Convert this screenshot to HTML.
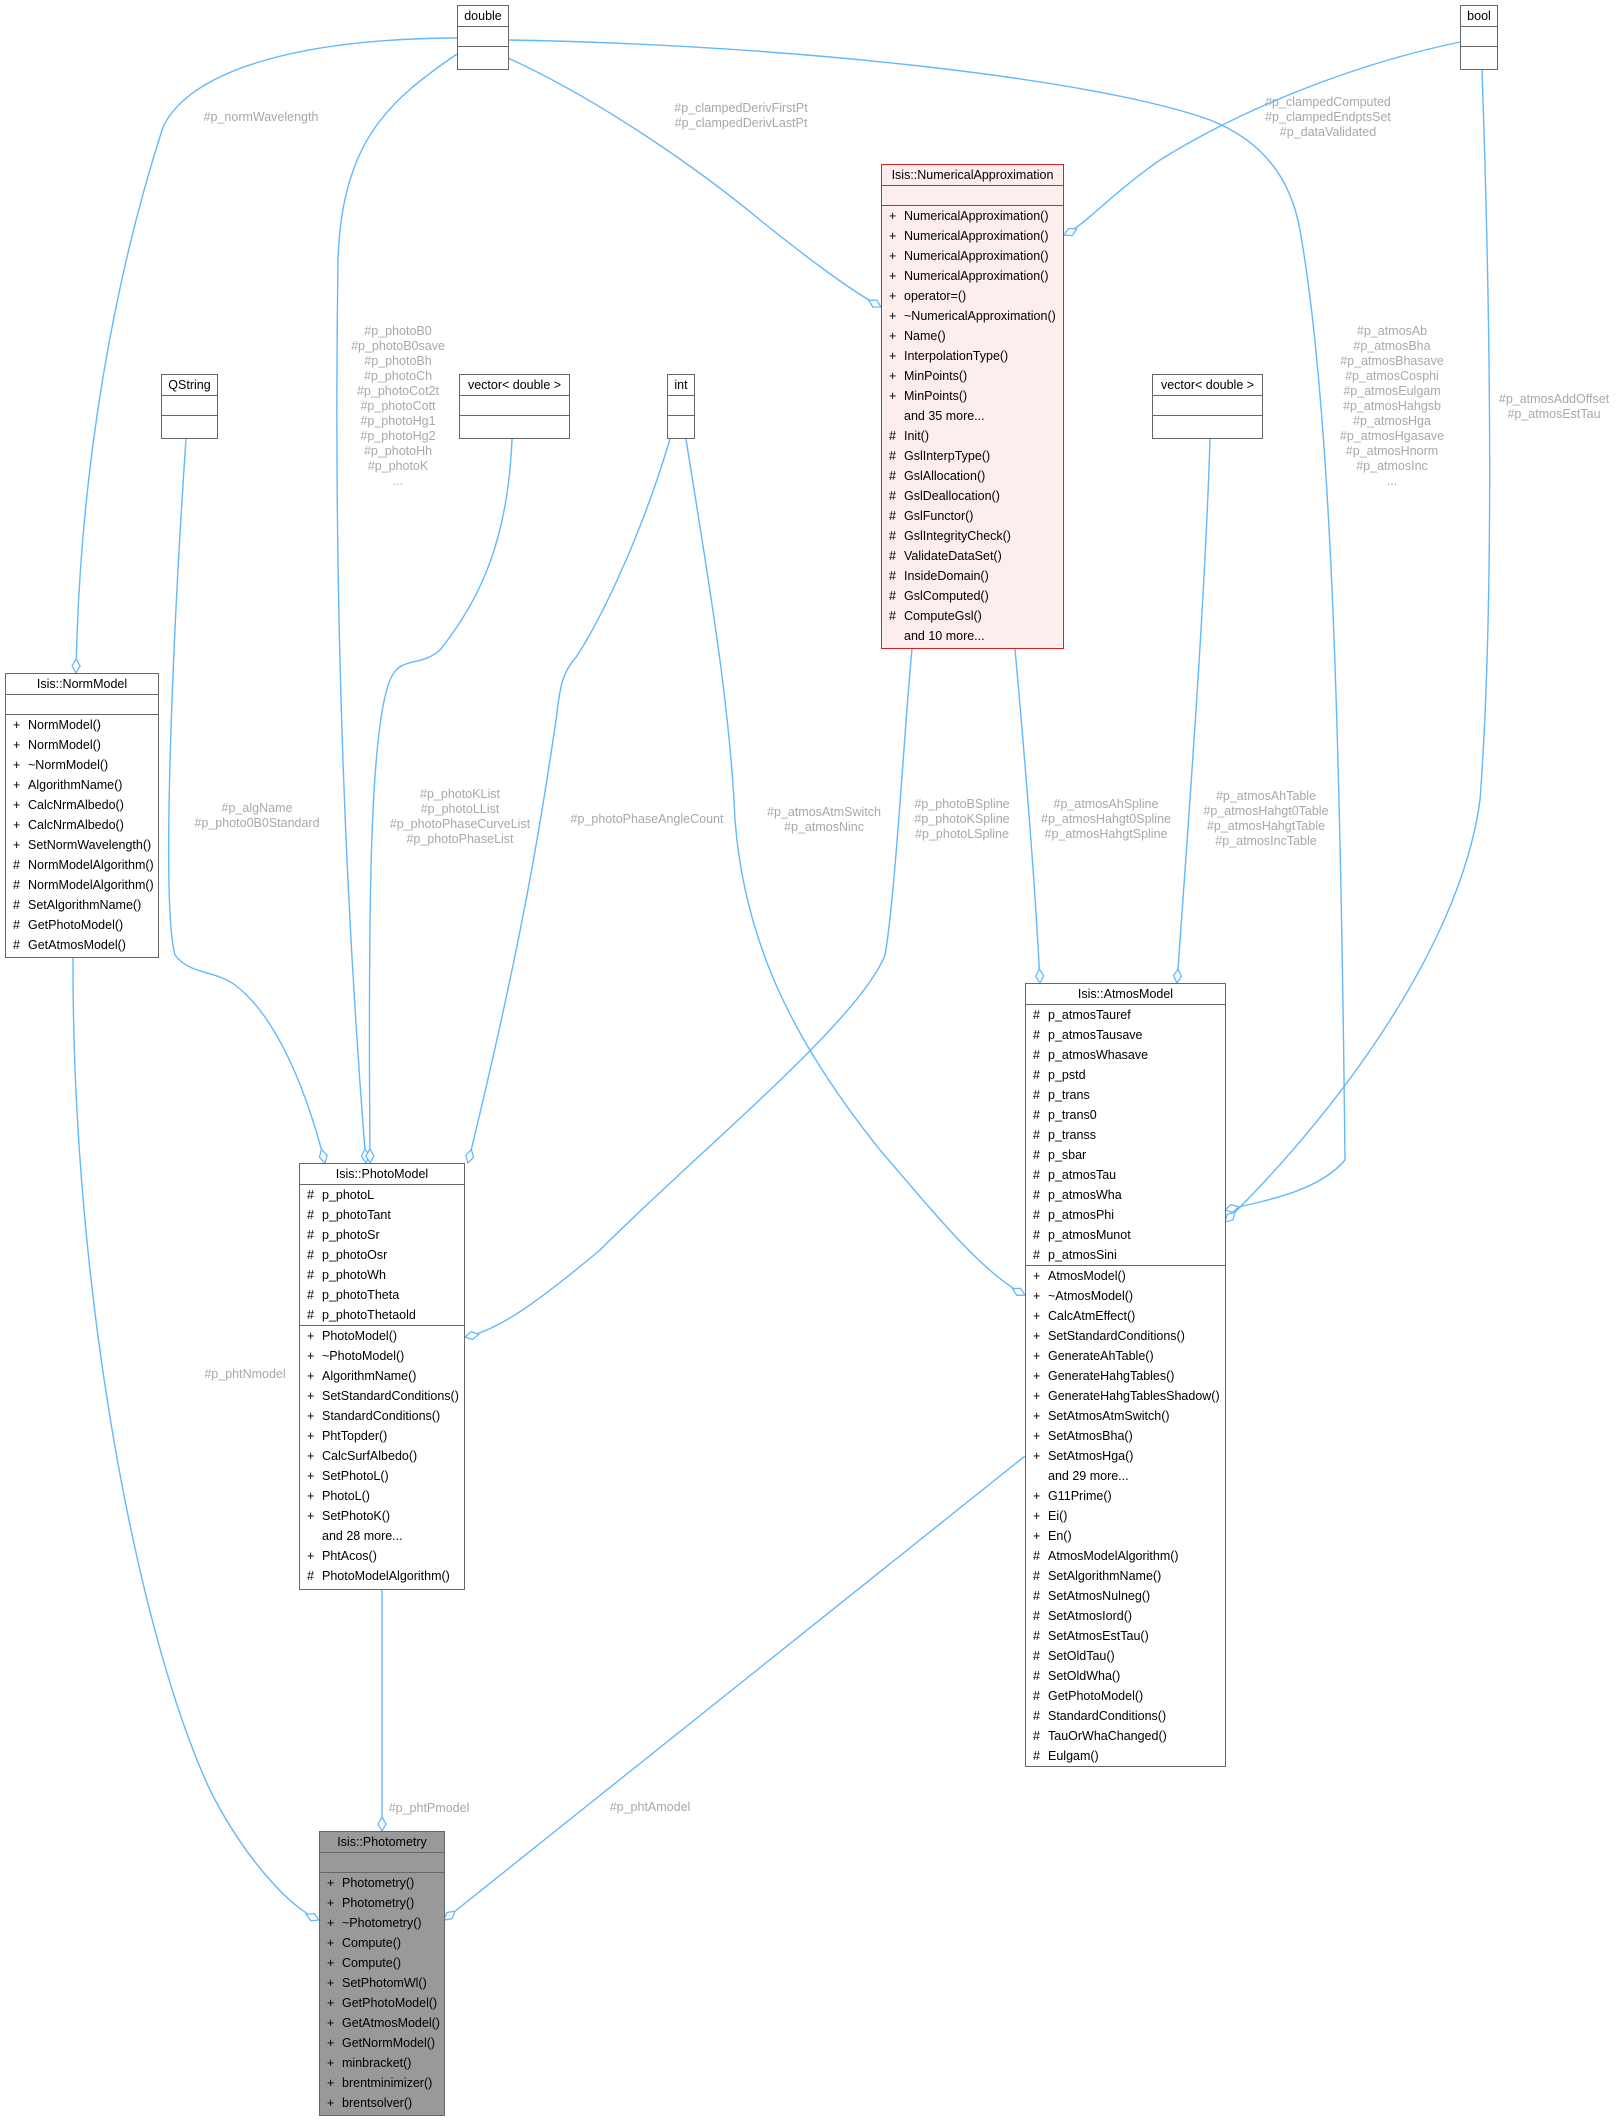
<!DOCTYPE html>
<html><head><meta charset="utf-8"><style>
body{margin:0;width:1618px;height:2121px;background:#fff;position:relative;overflow:hidden;font-family:"Liberation Sans",Arial,sans-serif}
svg{position:absolute;left:0;top:0}
.box{position:absolute;border:1.5px solid #666;background:#fff;box-sizing:border-box;font-size:12.5px;color:#000}
.h{height:21px;line-height:21px;text-align:center;border-bottom:1.5px solid #666;box-sizing:border-box;white-space:nowrap}
.e{height:20px;border-bottom:1.5px solid #666;box-sizing:border-box}
.r{height:20px;line-height:20px;padding-left:7px;white-space:nowrap}
.r b{font-weight:normal;display:inline-block;width:15px}
.sep{border-bottom:1.5px solid #666}
.na{border-color:#e02020;background:#fdeeee}
.na .h,.na .e{border-color:#e02020}
.pm{background:#999}
.lbl{position:absolute;color:#a8a8a8;font-size:12.5px;text-align:center;line-height:15px;white-space:nowrap;transform:translateX(-50%)}
</style></head><body>
<svg width="1618" height="2121" viewBox="0 0 1618 2121">
<defs><marker id="d" markerUnits="userSpaceOnUse" markerWidth="18" markerHeight="12" refX="15" refY="5" orient="auto"><path d="M1,5 L8,1 L15,5 L8,9 Z" fill="#fff" stroke="#63b8ff" stroke-width="1.3"/></marker></defs>
<g fill="none" stroke="#63b8ff" stroke-width="1.4" marker-end="url(#d)">
<path d="M462,38 C300,38 190,70 163,127 C120,260 80,450 76,673"/>
<path d="M457,54 C390,100 342,140 338,260 C333,600 345,900 366,1163"/>
<path d="M186,439 C175,600 160,900 175,955 C190,975 215,970 235,985 C275,1015 305,1085 325,1163"/>
<path d="M512,439 C508,540 480,600 440,650 C420,668 400,655 390,680 C370,730 368,900 370,1163"/>
<path d="M670,439 C640,540 600,620 577,656 C560,675 560,690 556,720 C540,830 520,950 468,1163"/>
<path d="M686,439 C705,560 730,700 735,820 C745,950 800,1050 880,1150 C940,1220 985,1275 1025,1295"/>
<path d="M912,649 C905,720 895,900 885,955 C860,1020 700,1150 600,1250 C540,1300 500,1330 465,1337"/>
<path d="M1015,649 C1025,760 1035,880 1040,983"/>
<path d="M1210,439 C1205,600 1190,800 1177,983"/>
<path d="M508,58 C600,100 700,170 760,220 C810,260 850,290 881,307"/>
<path d="M508,40 C800,45 1100,80 1210,120 C1260,140 1290,175 1300,230 C1330,400 1340,700 1345,1160 C1320,1190 1270,1200 1225,1210"/>
<path d="M1460,42 C1350,65 1240,110 1160,160 C1110,195 1085,225 1064,235"/>
<path d="M1482,70 C1490,300 1495,600 1480,800 C1460,950 1330,1120 1225,1222"/>
<path d="M73,958 C72,1300 140,1640 210,1790 C240,1850 285,1905 319,1920"/>
<path d="M382,1590 L382,1831"/>
<path d="M1025,1456 L444,1920"/>
</g>
</svg>

<div class="box" style="left:457px;top:5px;width:52px;height:65px"><div class="h">double</div><div class="e"></div></div>
<div class="box" style="left:1460px;top:5px;width:38px;height:65px"><div class="h">bool</div><div class="e"></div></div>
<div class="box" style="left:161px;top:374px;width:57px;height:65px"><div class="h">QString</div><div class="e"></div></div>
<div class="box" style="left:459px;top:374px;width:111px;height:65px"><div class="h">vector&lt; double &gt;</div><div class="e"></div></div>
<div class="box" style="left:667px;top:374px;width:28px;height:65px"><div class="h">int</div><div class="e"></div></div>
<div class="box" style="left:1152px;top:374px;width:111px;height:65px"><div class="h">vector&lt; double &gt;</div><div class="e"></div></div>

<div class="box na" style="left:881px;top:164px;width:183px;height:485px"><div class="h">Isis::NumericalApproximation</div><div class="e"></div>
<div class="r"><b>+</b>NumericalApproximation()</div><div class="r"><b>+</b>NumericalApproximation()</div><div class="r"><b>+</b>NumericalApproximation()</div><div class="r"><b>+</b>NumericalApproximation()</div><div class="r"><b>+</b>operator=()</div><div class="r"><b>+</b>~NumericalApproximation()</div><div class="r"><b>+</b>Name()</div><div class="r"><b>+</b>InterpolationType()</div><div class="r"><b>+</b>MinPoints()</div><div class="r"><b>+</b>MinPoints()</div><div class="r"><b></b>and 35 more...</div><div class="r"><b>#</b>Init()</div><div class="r"><b>#</b>GslInterpType()</div><div class="r"><b>#</b>GslAllocation()</div><div class="r"><b>#</b>GslDeallocation()</div><div class="r"><b>#</b>GslFunctor()</div><div class="r"><b>#</b>GslIntegrityCheck()</div><div class="r"><b>#</b>ValidateDataSet()</div><div class="r"><b>#</b>InsideDomain()</div><div class="r"><b>#</b>GslComputed()</div><div class="r"><b>#</b>ComputeGsl()</div><div class="r"><b></b>and 10 more...</div></div>

<div class="box" style="left:5px;top:673px;width:154px;height:285px"><div class="h">Isis::NormModel</div><div class="e"></div>
<div class="r"><b>+</b>NormModel()</div><div class="r"><b>+</b>NormModel()</div><div class="r"><b>+</b>~NormModel()</div><div class="r"><b>+</b>AlgorithmName()</div><div class="r"><b>+</b>CalcNrmAlbedo()</div><div class="r"><b>+</b>CalcNrmAlbedo()</div><div class="r"><b>+</b>SetNormWavelength()</div><div class="r"><b>#</b>NormModelAlgorithm()</div><div class="r"><b>#</b>NormModelAlgorithm()</div><div class="r"><b>#</b>SetAlgorithmName()</div><div class="r"><b>#</b>GetPhotoModel()</div><div class="r"><b>#</b>GetAtmosModel()</div></div>

<div class="box" style="left:299px;top:1163px;width:166px;height:427px"><div class="h">Isis::PhotoModel</div>
<div class="r"><b>#</b>p_photoL</div><div class="r"><b>#</b>p_photoTant</div><div class="r"><b>#</b>p_photoSr</div><div class="r"><b>#</b>p_photoOsr</div><div class="r"><b>#</b>p_photoWh</div><div class="r"><b>#</b>p_photoTheta</div><div class="r sep"><b>#</b>p_photoThetaold</div>
<div class="r"><b>+</b>PhotoModel()</div><div class="r"><b>+</b>~PhotoModel()</div><div class="r"><b>+</b>AlgorithmName()</div><div class="r"><b>+</b>SetStandardConditions()</div><div class="r"><b>+</b>StandardConditions()</div><div class="r"><b>+</b>PhtTopder()</div><div class="r"><b>+</b>CalcSurfAlbedo()</div><div class="r"><b>+</b>SetPhotoL()</div><div class="r"><b>+</b>PhotoL()</div><div class="r"><b>+</b>SetPhotoK()</div><div class="r"><b></b>and 28 more...</div><div class="r"><b>+</b>PhtAcos()</div><div class="r"><b>#</b>PhotoModelAlgorithm()</div></div>

<div class="box" style="left:1025px;top:983px;width:201px;height:784px"><div class="h">Isis::AtmosModel</div>
<div class="r"><b>#</b>p_atmosTauref</div><div class="r"><b>#</b>p_atmosTausave</div><div class="r"><b>#</b>p_atmosWhasave</div><div class="r"><b>#</b>p_pstd</div><div class="r"><b>#</b>p_trans</div><div class="r"><b>#</b>p_trans0</div><div class="r"><b>#</b>p_transs</div><div class="r"><b>#</b>p_sbar</div><div class="r"><b>#</b>p_atmosTau</div><div class="r"><b>#</b>p_atmosWha</div><div class="r"><b>#</b>p_atmosPhi</div><div class="r"><b>#</b>p_atmosMunot</div><div class="r sep"><b>#</b>p_atmosSini</div>
<div class="r"><b>+</b>AtmosModel()</div><div class="r"><b>+</b>~AtmosModel()</div><div class="r"><b>+</b>CalcAtmEffect()</div><div class="r"><b>+</b>SetStandardConditions()</div><div class="r"><b>+</b>GenerateAhTable()</div><div class="r"><b>+</b>GenerateHahgTables()</div><div class="r"><b>+</b>GenerateHahgTablesShadow()</div><div class="r"><b>+</b>SetAtmosAtmSwitch()</div><div class="r"><b>+</b>SetAtmosBha()</div><div class="r"><b>+</b>SetAtmosHga()</div><div class="r"><b></b>and 29 more...</div><div class="r"><b>+</b>G11Prime()</div><div class="r"><b>+</b>Ei()</div><div class="r"><b>+</b>En()</div><div class="r"><b>#</b>AtmosModelAlgorithm()</div><div class="r"><b>#</b>SetAlgorithmName()</div><div class="r"><b>#</b>SetAtmosNulneg()</div><div class="r"><b>#</b>SetAtmosIord()</div><div class="r"><b>#</b>SetAtmosEstTau()</div><div class="r"><b>#</b>SetOldTau()</div><div class="r"><b>#</b>SetOldWha()</div><div class="r"><b>#</b>GetPhotoModel()</div><div class="r"><b>#</b>StandardConditions()</div><div class="r"><b>#</b>TauOrWhaChanged()</div><div class="r"><b>#</b>Eulgam()</div></div>

<div class="box pm" style="left:319px;top:1831px;width:126px;height:285px"><div class="h">Isis::Photometry</div><div class="e"></div>
<div class="r"><b>+</b>Photometry()</div><div class="r"><b>+</b>Photometry()</div><div class="r"><b>+</b>~Photometry()</div><div class="r"><b>+</b>Compute()</div><div class="r"><b>+</b>Compute()</div><div class="r"><b>+</b>SetPhotomWl()</div><div class="r"><b>+</b>GetPhotoModel()</div><div class="r"><b>+</b>GetAtmosModel()</div><div class="r"><b>+</b>GetNormModel()</div><div class="r"><b>+</b>minbracket()</div><div class="r"><b>+</b>brentminimizer()</div><div class="r"><b>+</b>brentsolver()</div></div>

<div class="lbl" style="left:261px;top:110px">#p_normWavelength</div>
<div class="lbl" style="left:741px;top:101px">#p_clampedDerivFirstPt<br>#p_clampedDerivLastPt</div>
<div class="lbl" style="left:1328px;top:95px">#p_clampedComputed<br>#p_clampedEndptsSet<br>#p_dataValidated</div>
<div class="lbl" style="left:398px;top:324px">#p_photoB0<br>#p_photoB0save<br>#p_photoBh<br>#p_photoCh<br>#p_photoCot2t<br>#p_photoCott<br>#p_photoHg1<br>#p_photoHg2<br>#p_photoHh<br>#p_photoK<br>...</div>
<div class="lbl" style="left:1392px;top:324px">#p_atmosAb<br>#p_atmosBha<br>#p_atmosBhasave<br>#p_atmosCosphi<br>#p_atmosEulgam<br>#p_atmosHahgsb<br>#p_atmosHga<br>#p_atmosHgasave<br>#p_atmosHnorm<br>#p_atmosInc<br>...</div>
<div class="lbl" style="left:1554px;top:392px">#p_atmosAddOffset<br>#p_atmosEstTau</div>
<div class="lbl" style="left:257px;top:801px">#p_algName<br>#p_photo0B0Standard</div>
<div class="lbl" style="left:460px;top:787px">#p_photoKList<br>#p_photoLList<br>#p_photoPhaseCurveList<br>#p_photoPhaseList</div>
<div class="lbl" style="left:647px;top:812px">#p_photoPhaseAngleCount</div>
<div class="lbl" style="left:824px;top:805px">#p_atmosAtmSwitch<br>#p_atmosNinc</div>
<div class="lbl" style="left:962px;top:797px">#p_photoBSpline<br>#p_photoKSpline<br>#p_photoLSpline</div>
<div class="lbl" style="left:1106px;top:797px">#p_atmosAhSpline<br>#p_atmosHahgt0Spline<br>#p_atmosHahgtSpline</div>
<div class="lbl" style="left:1266px;top:789px">#p_atmosAhTable<br>#p_atmosHahgt0Table<br>#p_atmosHahgtTable<br>#p_atmosIncTable</div>
<div class="lbl" style="left:245px;top:1367px">#p_phtNmodel</div>
<div class="lbl" style="left:429px;top:1801px">#p_phtPmodel</div>
<div class="lbl" style="left:650px;top:1800px">#p_phtAmodel</div>
</body></html>
